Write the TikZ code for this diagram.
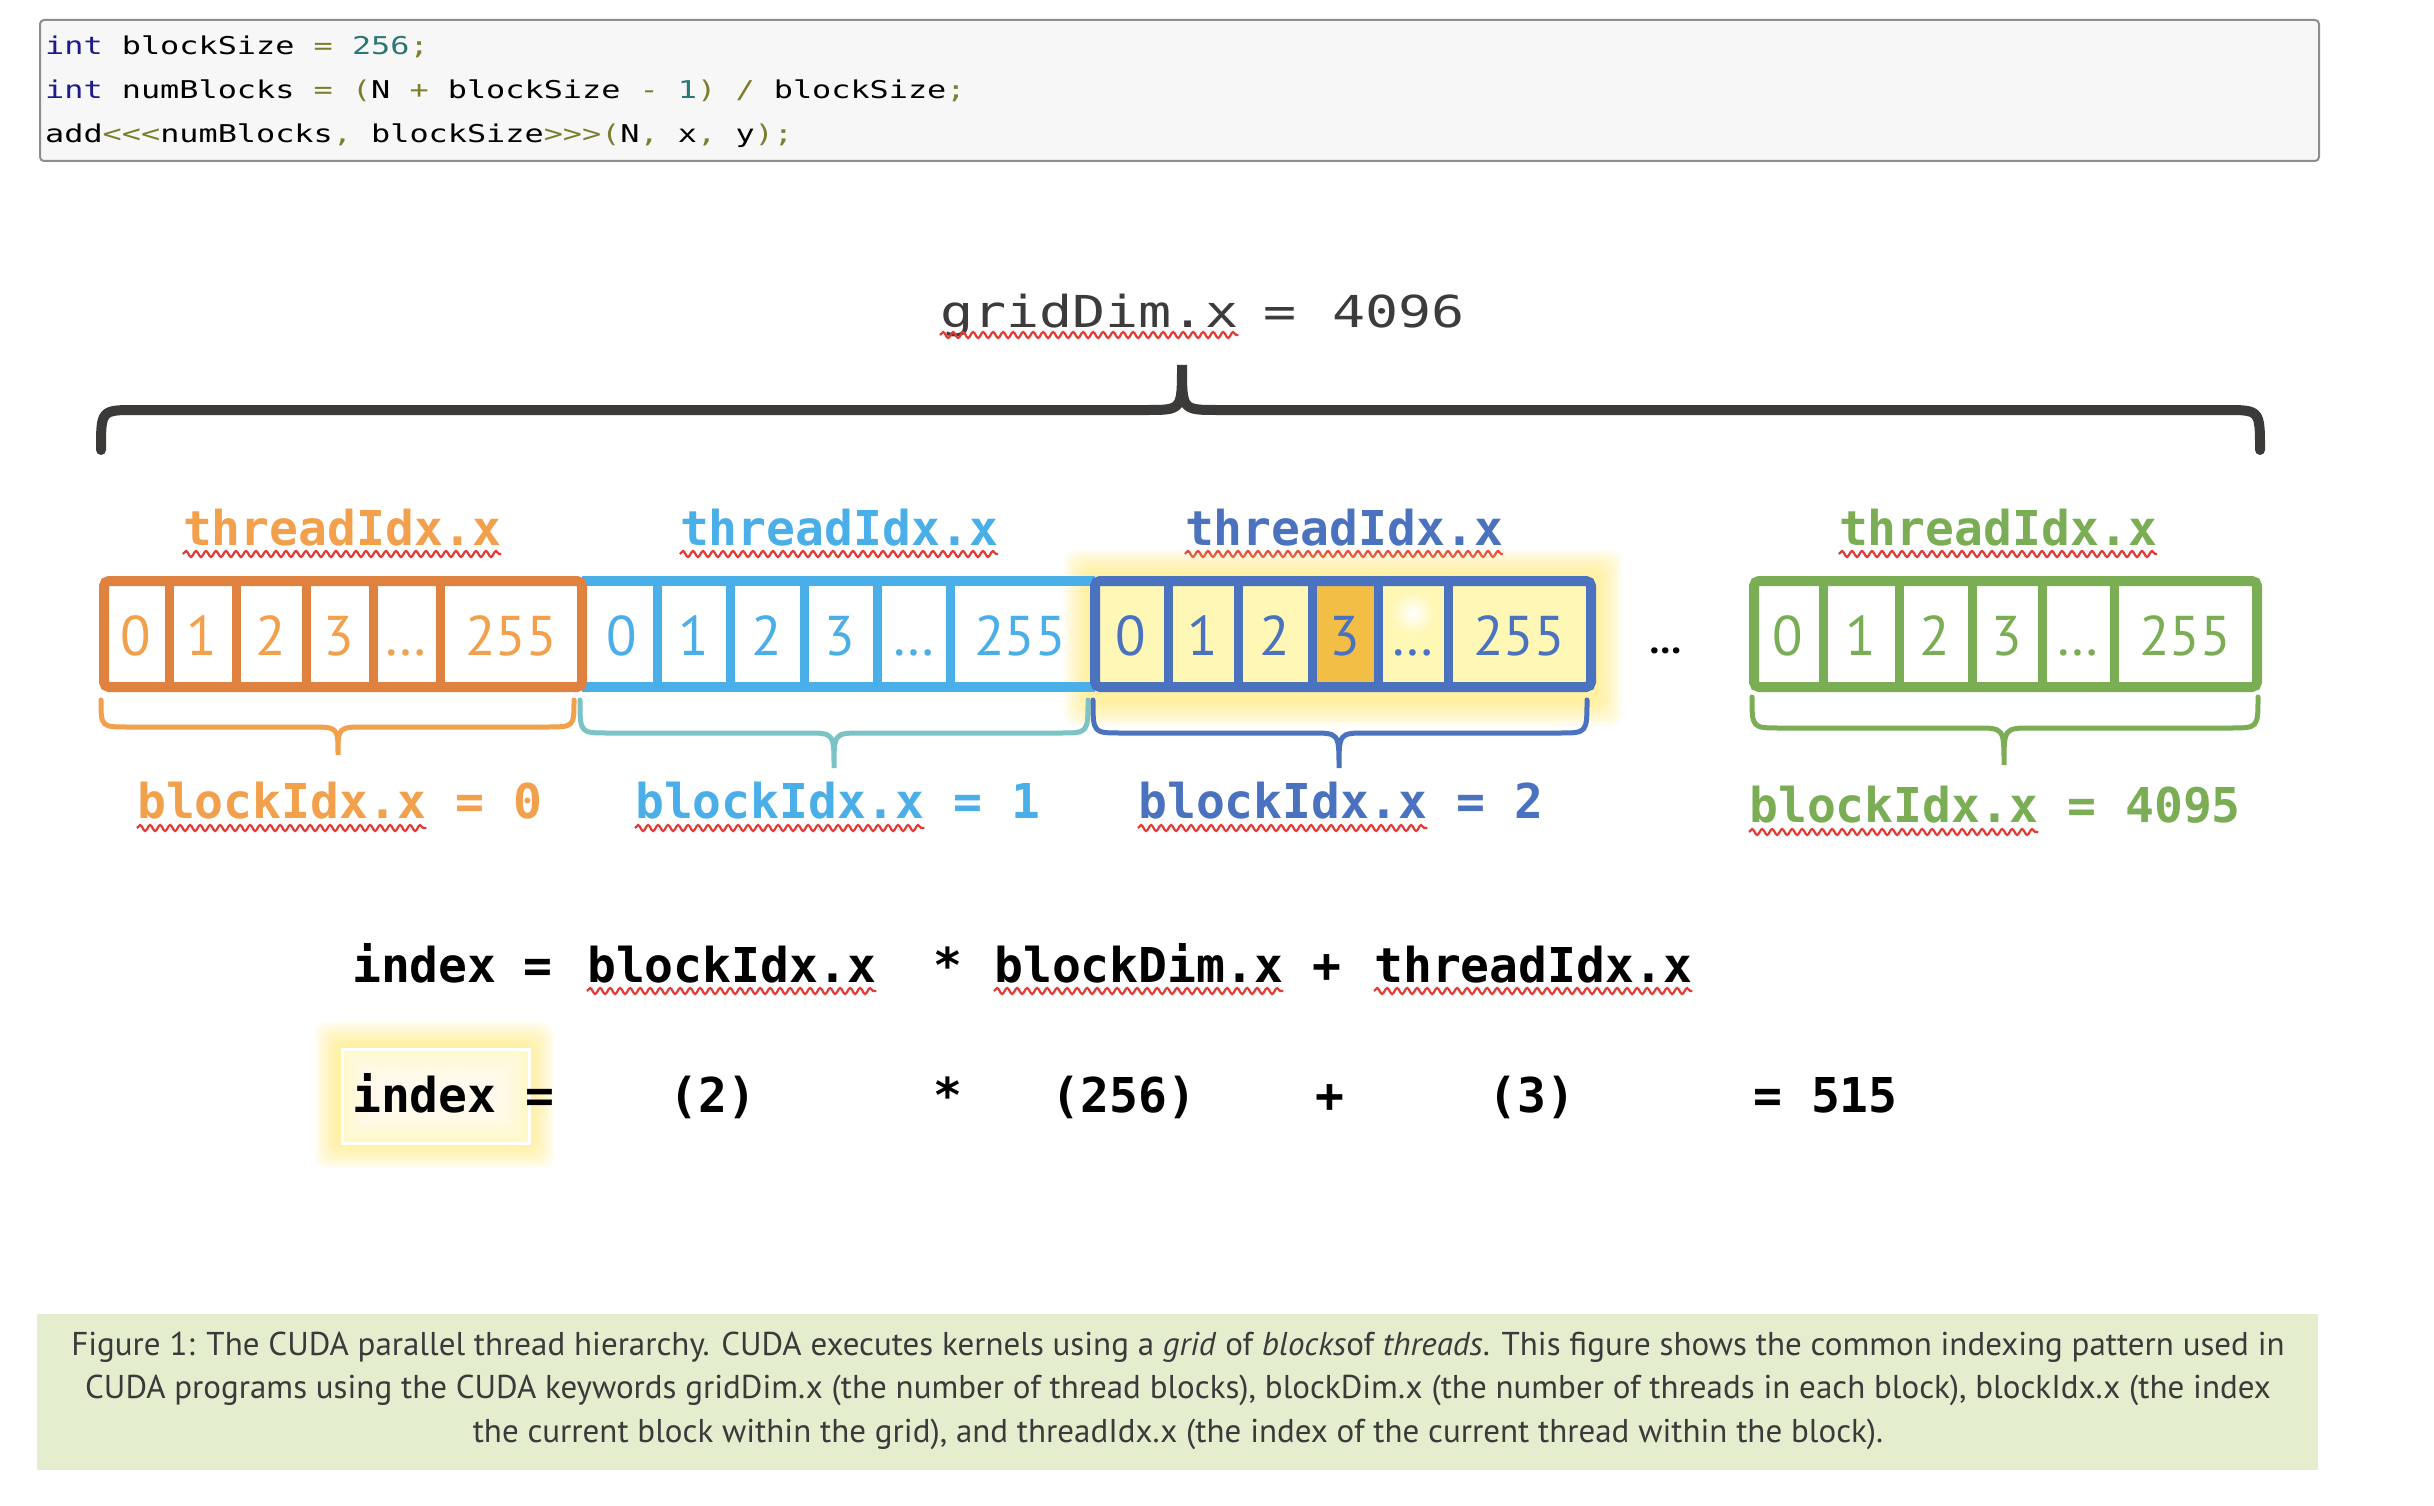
\documentclass[tikz,border=0pt]{standalone}
\usepackage{fontspec}
\usetikzlibrary{decorations.pathmorphing}
\setmainfont{PT Sans}
\newfontfamily\codefont[Ligatures=TeXOff,FakeStretch=1.3]{DejaVu Sans Mono}
\newfontfamily\monob[Ligatures=TeXOff]{DejaVu Sans Mono}
\newfontfamily\gridfont[Ligatures=TeXOff,FakeStretch=1.25]{DejaVu Sans Mono}
\newfontfamily\numfont{PT Sans}
\newfontfamily\capfont{PT Sans}
\definecolor{codebg}{HTML}{F7F7F7}
\definecolor{codeborder}{HTML}{8E8E8E}
\definecolor{kwc}{HTML}{1C1A8C}
\definecolor{numc}{HTML}{2E7575}
\definecolor{opc}{HTML}{7D7D2E}
\definecolor{orangeB}{HTML}{E0823F}
\definecolor{orangeT}{HTML}{F2A04B}
\definecolor{lblue}{HTML}{4AAEE8}
\definecolor{tealB}{HTML}{7CC3C6}
\definecolor{dblue}{HTML}{4A72BE}
\definecolor{greenB}{HTML}{7BAD55}
\definecolor{cellY}{HTML}{FFF7B5}
\definecolor{amber}{HTML}{F3BE45}
\definecolor{glowY}{HTML}{FFEB6E}
\definecolor{idxY}{HTML}{FFF8C8}
\definecolor{wavyred}{HTML}{E53935}
\definecolor{darkT}{HTML}{3C3C3C}
\definecolor{braceC}{HTML}{3B3A39}
\definecolor{capbg}{HTML}{E5EDCF}
\definecolor{capT}{HTML}{3A3A3A}
\newcommand{\cbrace}[8]{%
  \draw[#1] (#2,#5) .. controls (#2,#6) and (#2,#6) .. ({#2+#8},#6) -- ({#4-#8},#6)
    .. controls (#4,#6) and (#4,#6) .. (#4,#7)
    .. controls (#4,#6) and (#4,#6) .. ({#4+#8},#6) -- ({#3-#8},#6)
    .. controls (#3,#6) and (#3,#6) .. (#3,#5);}
\newcommand{\glowrect}[4]{%
  \foreach \k in {1,...,10}{\fill[glowY, opacity=0.09, rounded corners=12pt]
    ({#1-\k*2.6},{#2-\k*2.6}) rectangle ({#3+\k*2.6},{#4+\k*2.6});}}
\begin{document}
\begin{tikzpicture}[x=1pt,y=-1pt,
  code/.style={inner sep=0pt, anchor=base west, font=\codefont\fontsize{24.5}{29}\selectfont},
  lbl/.style={inner sep=0pt, font=\monob\bfseries\fontsize{48}{56}\selectfont},
  num/.style={inner sep=0pt, anchor=base, font=\numfont\fontsize{56}{64}\selectfont},
  gridlbl/.style={inner sep=0pt, text=darkT, font=\gridfont\fontsize{44}{52}\selectfont},
  caption/.style={inner sep=0pt, anchor=base, text=capT, font=\capfont\fontsize{33}{40}\selectfont},
  wavy/.style={draw=wavyred, line width=2.2pt, decorate, decoration={snake, segment length=10pt, amplitude=3pt}},
  blk/.style={line width=10pt},
  divl/.style={line width=9pt},
  brc/.style={line width=5pt, line cap=round},
  bigbrc/.style={line width=10pt, line cap=round, draw=braceC}]
\useasboundingbox (0,0) rectangle (2434,1506);
\fill[white] (0,0) rectangle (2434,1506);

% ---------- code box ----------
\node[draw=codeborder, line width=2pt, fill=codebg, rounded corners=4pt, inner sep=0pt,
      minimum width=2279pt, minimum height=141pt, anchor=north west] (codebox) at (39,19) {};
\node[code] (c1) at (45,55) {{\color{kwc}int} blockSize {\color{opc}=} {\color{numc}256}{\color{opc};}};
\node[code] (c2) at (45,99) {{\color{kwc}int} numBlocks {\color{opc}=} {\color{opc}(}N {\color{opc}+} blockSize {\color{opc}-} {\color{numc}1}{\color{opc})} {\color{opc}/} blockSize{\color{opc};}};
\node[code] (c3) at (45,143) {add{\color{opc}<<<}numBlocks{\color{opc},} blockSize{\color{opc}>>>}{\color{opc}(}N{\color{opc},} x{\color{opc},} y{\color{opc})}{\color{opc};}};

% ---------- gridDim ----------
\node[gridlbl, anchor=base west] (gd) at (940,327) {gridDim.x};
\node[gridlbl, anchor=base] (gdeq) at (1280,327) {=};
\node[gridlbl, anchor=base west] (gdv) at (1332,327) {4096};
\draw[wavy] ([yshift=-8pt]gd.base west) -- ([yshift=-8pt]gd.base east);
\cbrace{bigbrc}{101}{2260}{1182}{450}{410}{365}{35}

% ---------- thread labels ----------
\node[lbl, anchor=base, text=orangeT] (to) at (342,545) {threadIdx.x};
\node[lbl, anchor=base, text=lblue] (tl) at (839,545) {threadIdx.x};
\node[lbl, anchor=base, text=dblue] (td) at (1344,545) {threadIdx.x};
\node[lbl, anchor=base, text=greenB] (tg) at (1998,545) {threadIdx.x};
\foreach \n in {to,tl,td,tg} \draw[wavy] ([yshift=-9pt]\n.base west) -- ([yshift=-9pt]\n.base east);

% ---------- glow behind block 2 ----------
\glowrect{1090}{576}{1596}{700}

% ---------- light blue block ----------
\draw[blk, lblue] (582,581) -- (1095,581);
\draw[blk, lblue] (582,687) -- (1095,687);
\foreach \x in {657,730,804,877,950} \draw[divl, lblue] (\x,581) -- (\x,687);

% ---------- orange block ----------
\draw[blk, orangeB, rounded corners=5pt] (104,581) rectangle (582,687);
\foreach \x in {169,236,306,373,440} \draw[divl, orangeB] (\x,581) -- (\x,687);

% ---------- dark blue block ----------
\fill[cellY] (1095,581) rectangle (1591,687);
\fill[amber] (1312,581) rectangle (1378,687);
\shade[inner color=white, outer color=cellY] (1413,613) circle (22pt);
\draw[blk, dblue, rounded corners=5pt] (1095,581) rectangle (1591,687);
\foreach \x in {1168,1238,1312,1378,1448} \draw[divl, dblue] (\x,581) -- (\x,687);

% ---------- green block ----------
\draw[blk, greenB, rounded corners=5pt] (1754,581) rectangle (2257,687);
\foreach \x in {1823,1899,1972,2042,2114} \draw[divl, greenB] (\x,581) -- (\x,687);

% ---------- cell numbers ----------
\foreach \x/\t [count=\i] in {136/0,202/1,271/2,339/3,406/…,511/255}
  \node[num, text=orangeT] (o\i) at (\x,655) {\t};
\foreach \x/\t [count=\i] in {622/0,694/1,767/2,840/3,914/…,1020/255}
  \node[num, text=lblue] (l\i) at (\x,655) {\t};
\foreach \x/\t [count=\i] in {1131/0,1203/1,1275/2,1345/3,1413/…,1519/255}
  \node[num, text=dblue] (d\i) at (\x,655) {\t};
\foreach \x/\t [count=\i] in {1788/0,1861/1,1935/2,2007/3,2078/…,2185/255}
  \node[num, text=greenB] (g\i) at (\x,655) {\t};
\node[inner sep=0pt, anchor=base, font=\numfont\bfseries\fontsize{40}{48}\selectfont] (gap) at (1666,653) {…};

% ---------- braces under blocks ----------
\cbrace{brc, orangeT}{101}{574}{338}{700}{727}{755}{28}
\cbrace{brc, tealB}{580}{1088}{834}{700}{733}{768}{28}
\cbrace{brc, dblue}{1093}{1587}{1339}{700}{733}{768}{28}
\cbrace{brc, greenB}{1752}{2258}{2004}{697}{728}{765}{28}

% ---------- blockIdx labels ----------
\node[lbl, anchor=base west, text=orangeT] (bo) at (137,818) {blockIdx.x};
\node[lbl, anchor=base west, text=orangeT] (bov) at ([xshift=28.9pt]bo.base east) {= 0};
\node[lbl, anchor=base west, text=lblue] (bl) at (635,818) {blockIdx.x};
\node[lbl, anchor=base west, text=lblue] (blv) at ([xshift=28.9pt]bl.base east) {= 1};
\node[lbl, anchor=base west, text=dblue] (bd) at (1138,818) {blockIdx.x};
\node[lbl, anchor=base west, text=dblue] (bdv) at ([xshift=28.9pt]bd.base east) {= 2};
\node[lbl, anchor=base west, text=greenB] (bg) at (1749,822) {blockIdx.x};
\node[lbl, anchor=base west, text=greenB] (bgv) at ([xshift=28.9pt]bg.base east) {= 4095};
\foreach \n in {bo,bl,bd,bg} \draw[wavy] ([yshift=-10pt]\n.base west) -- ([yshift=-10pt]\n.base east);

% ---------- formula line 1 ----------
\node[lbl, anchor=base west] (f1idx) at (352,982) {index};
\node[lbl, anchor=base] (f1eq) at (538,982) {=};
\node[lbl, anchor=base west] (f1bi) at (587,982) {blockIdx.x};
\node[lbl, anchor=base] (f1mul) at (948,982) {*};
\node[lbl, anchor=base west] (f1bd) at (994,982) {blockDim.x};
\node[lbl, anchor=base] (f1plus) at (1327,982) {+};
\node[lbl, anchor=base west] (f1ti) at (1374,982) {threadIdx.x};
\foreach \n in {f1bi,f1bd,f1ti} \draw[wavy] ([yshift=-9pt]\n.base west) -- ([yshift=-9pt]\n.base east);

% ---------- formula line 2 ----------
\glowrect{341}{1048}{528}{1142}
\fill[idxY] (341,1048) rectangle (528,1142);
\foreach \k in {1,...,8} \fill[white, opacity=0.15] ({341+\k*4},{1048+\k*4}) rectangle ({528-\k*4},{1142-\k*4});
\node[draw=white, line width=3pt, minimum width=187pt, minimum height=94pt, inner sep=0pt, anchor=north west] (idxbox) at (341,1048) {};
\node[lbl, anchor=base west] (f2idx) at (352,1112) {index};
\node[lbl, anchor=base] (f2eq) at (540,1112) {=};
\node[lbl, anchor=base] (f2a) at (713,1112) {(2)};
\node[lbl, anchor=base] (f2mul) at (948,1112) {*};
\node[lbl, anchor=base] (f2b) at (1124,1112) {(256)};
\node[lbl, anchor=base] (f2plus) at (1330,1112) {+};
\node[lbl, anchor=base] (f2c) at (1532,1112) {(3)};
\node[lbl, anchor=base west] (f2res) at (1753,1112) {= 515};

% ---------- caption ----------
\node[fill=capbg, inner sep=0pt, minimum width=2281pt, minimum height=156pt, anchor=north west] (capbox) at (37,1314) {};
\node[caption] (cap1) at (1178,1355) {Figure 1: The CUDA parallel thread hierarchy. CUDA executes kernels using a \textit{grid} of \textit{blocks}of \textit{threads}. This figure shows the common indexing pattern used in};
\node[caption] (cap2) at (1178,1398) {CUDA programs using the CUDA keywords gridDim.x (the number of thread blocks), blockDim.x (the number of threads in each block), blockIdx.x (the index};
\node[caption] (cap3) at (1178,1442) {the current block within the grid), and threadIdx.x (the index of the current thread within the block).};
\end{tikzpicture}
\end{document}
